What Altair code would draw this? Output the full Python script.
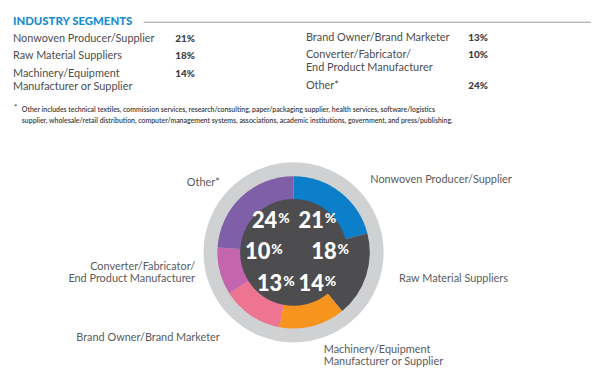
import altair as alt
import pandas as pd

# ---- data ----
segments = [
    "Nonwoven Producer/Supplier",
    "Raw Material Suppliers",
    "Machinery/Equipment\nManufacturer or Supplier",
    "Brand Owner/Brand Marketer",
    "Converter/Fabricator/\nEnd Product Manufacturer",
    "Other*",
]
shares = [21, 18, 14, 13, 10, 24]
seg_colors = ["#0b7fca", "#4d4d4f", "#f7941e", "#ee7592", "#c465ae", "#7f60a8"]

title_text = "INDUSTRY SEGMENTS"
footnote_lines = [
    "Other includes technical textiles, commission services, research/consulting, paper/packaging supplier, health services, software/logistics",
    "supplier, wholesale/retail distribution, computer/management systems, associations, academic institutions, government, and press/publishing.",
]

# ---- layout (image pixel coordinates) ----
W, H = 584, 366
OFF = 8
cx, cy = 296.5 - OFF, 253 - OFF

table_pos = [  # label x, pct x, baseline y
    (13, 177, 40), (13, 177, 57.5), (13, 177, 76),
    (309, 473, 39.5), (309, 473, 57), (309, 473, 88),
]
chart_lab_pos = [  # x, y, align
    (374, 183, "left"), (403, 283, "left"), (327, 355, "left"),
    (222, 343, "right"), (197, 271, "right"), (222, 186, "right"),
]
pct_pos = [  # right edge of digits, baseline
    (327, 228), (340, 260), (327, 292), (285, 292), (273, 260), (280, 228),
]

xs = alt.Scale(domain=[OFF, OFF + W], range=[0, W])
ys = alt.Scale(domain=[OFF, OFF + H], range=[0, H])

seg_df = pd.DataFrame({"segment": segments, "share": shares, "idx": range(len(segments))})
seg_df["pct"] = seg_df["share"].astype(str) + "%"
seg_df["num"] = seg_df["share"].astype(str)
seg_df["tx"] = [p[0] for p in table_pos]
seg_df["px"] = [p[1] for p in table_pos]
seg_df["ty"] = [p[2] for p in table_pos]
seg_df["lx"] = [p[0] for p in chart_lab_pos]
seg_df["ly"] = [p[1] for p in chart_lab_pos]
seg_df["lalign"] = [p[2] for p in chart_lab_pos]
seg_df["nx"] = [p[0] for p in pct_pos]
seg_df["ny"] = [p[1] for p in pct_pos]

color_scale = alt.Scale(domain=segments, range=seg_colors)

base = alt.Chart(seg_df)

ring = base.transform_filter("datum.idx == 0").mark_arc(
    radius=91, radius2=0, theta=0, theta2=6.2832, color="#d0d1d3"
).encode(x=alt.value(cx), y=alt.value(cy))

arcs = base.mark_arc(radius=77, radius2=0, stroke=None).encode(
    theta=alt.Theta("share:Q", stack=True),
    order=alt.Order("idx:O"),
    color=alt.Color("segment:N", scale=color_scale, legend=None),
    x=alt.value(cx), y=alt.value(cy),
)

hub = base.transform_filter("datum.idx == 0").mark_arc(
    radius=54, radius2=0, theta=0, theta2=6.2832, color="#4d4d4f"
).encode(x=alt.value(cx), y=alt.value(cy))

nums = base.mark_text(
    align="right", baseline="alphabetic", font="Lato", fontWeight=900,
    fontSize=22, color="white"
).encode(x=alt.X("nx:Q", scale=xs, axis=None), y=alt.Y("ny:Q", scale=ys, axis=None), text="num:N")

pcts = base.mark_text(
    align="left", baseline="alphabetic", font="Lato", fontWeight=900,
    fontSize=14, color="white", dx=1, dy=-5
).encode(x=alt.X("nx:Q", scale=xs), y=alt.Y("ny:Q", scale=ys), text=alt.value("%"))

lab_common = dict(baseline="alphabetic", font="Lato", fontSize=11, color="#5a5b5d",
                  lineBreak="\n", lineHeight=12)
labs_left = base.transform_filter("datum.lalign == 'left'").mark_text(align="left", **lab_common).encode(
    x=alt.X("lx:Q", scale=xs), y=alt.Y("ly:Q", scale=ys), text="segment:N")
labs_right = base.transform_filter("datum.lalign == 'right'").mark_text(align="right", **lab_common).encode(
    x=alt.X("lx:Q", scale=xs), y=alt.Y("ly:Q", scale=ys), text="segment:N")

tab_labs = base.mark_text(
    align="left", baseline="alphabetic", font="Lato", fontSize=11, color="#4d4d4f",
    lineBreak="\n", lineHeight=12.5
).encode(x=alt.X("tx:Q", scale=xs), y=alt.Y("ty:Q", scale=ys), text="segment:N")

tab_pcts = base.mark_text(
    align="left", baseline="alphabetic", font="Lato", fontSize=10, fontWeight=900, color="#3d3d3f"
).encode(x=alt.X("px:Q", scale=xs), y=alt.Y("ty:Q", scale=ys), text="pct:N")

title_df = pd.DataFrame({"t": [title_text], "x": [13], "y": [23], "x1": [145], "x2": [597], "ry": [20.5]})
title = alt.Chart(title_df).mark_text(
    align="left", baseline="alphabetic", font="Lato", fontSize=11.5, fontWeight=900, color="#1a8dd2"
).encode(x=alt.X("x:Q", scale=xs), y=alt.Y("y:Q", scale=ys), text="t:N")
rule = alt.Chart(title_df).mark_rule(color="#9a9b9d", strokeWidth=1).encode(
    x=alt.X("x1:Q", scale=xs), x2="x2:Q", y=alt.Y("ry:Q", scale=ys))

foot_df = pd.DataFrame({"t": footnote_lines, "x": [22, 22], "y": [111, 122]})
foot = alt.Chart(foot_df).mark_text(
    align="left", baseline="alphabetic", font="Lato", fontSize=7, fontWeight=600, color="#3a3a3c"
).encode(x=alt.X("x:Q", scale=xs), y=alt.Y("y:Q", scale=ys), text="t:N")
star_df = pd.DataFrame({"t": ["*"], "x": [14], "y": [109]})
star = alt.Chart(star_df).mark_text(
    align="left", baseline="alphabetic", font="Lato", fontSize=8, color="#3a3a3c"
).encode(x=alt.X("x:Q", scale=xs), y=alt.Y("y:Q", scale=ys), text="t:N")

chart = alt.layer(
    ring, arcs, hub, nums, pcts, labs_left, labs_right, tab_labs, tab_pcts, title, rule, foot, star
).properties(width=W, height=H, padding=0).configure_view(stroke=None)

chart.save("out.html", embed_options={"renderer": "svg", "actions": False})
